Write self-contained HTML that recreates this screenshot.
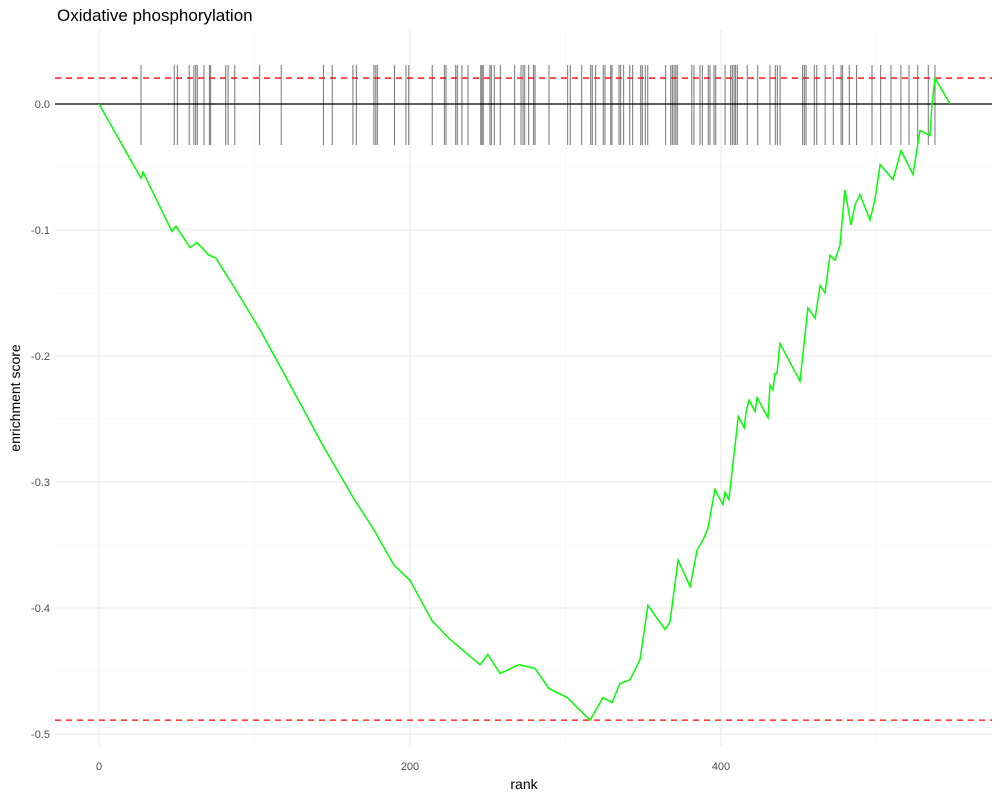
<!DOCTYPE html>
<html><head><meta charset="utf-8"><style>
body{margin:0;background:#fff;font-family:"Liberation Sans","DejaVu Sans",sans-serif}
</style></head><body>
<svg id="chart" width="1000" height="800" xmlns="http://www.w3.org/2000/svg">
<text x="57" y="21" font-size="17" fill="#000">Oxidative phosphorylation</text>
<g id="grid"></g>
<g id="axes"></g>
<g id="marks"></g>
<text x="524" y="789" font-size="14" text-anchor="middle" fill="#000">rank</text>
<text transform="translate(20,398) rotate(-90)" font-size="14" text-anchor="middle" fill="#000">enrichment score</text>
</svg>
<script>
const hits=[27,48.4,50.4,58,61,62.2,63.2,67.5,71,71.8,81.5,83,87.3,103.3,117.2,144.3,150,163.3,165.5,176.8,178,179,190,197.4,199.2,
214.3,222.1,223.2,229.4,230.4,233.4,237.3,245.5,246.3,247.1,251.4,252.3,254.2,258.1,267.3,271.4,272.7,273.8,276.3,279.5,280.4,289.4,301.4,303.1,310.4,316.2,317.2,319.4,324.3,325.4,329.1,329.9,334.4,335.5,337.4,341.3,343.2,348.4,349.4,351.3,352.9,364.4,367.7,368.7,369.8,370.9,371.9,
381.2,382.6,386.5,388,391.8,392.9,395.5,396.6,402.6,406.2,407.3,408.4,409.4,410.5,416.9,423.6,431.5,434.9,436.2,438,452.5,453.6,454.7,460,461.6,467,472.2,477.2,478.2,482.5,487.2,497.1,502.7,509.3,515.7,520.9,526.5,533.3,537.6];
const esRank=[0,27,28.3,46.9,49.5,58.5,63,70.7,75,84.2,103.5,117.7,144,163.3,176.8,189.7,200,214.1,225.7,245,250,257.9,270,280.4,289.4,301,315.8,324.1,329.9,335,341.5,347.9,353,364,367.2,372.4,380.1,384.6,388.4,391.6,396.1,401.3,402.6,405.1,411.1,415,416.1,418,421.9,423.2,430.2,431.5,433.4,434.7,436,437.9,450.8,455.9,460.5,463.7,466.9,470.1,473.3,476.5,479.7,483.6,486.2,489.4,495.8,499,502.3,510.6,515.8,523.5,528,534.4,535.5,537.6,547.3];
const esValue=[0,-0.059,-0.054,-0.101,-0.097,-0.114,-0.110,-0.120,-0.122,-0.140,-0.179,-0.211,-0.271,-0.312,-0.338,-0.366,-0.378,-0.410,-0.425,-0.445,-0.437,-0.452,-0.445,-0.448,-0.464,-0.471,-0.489,-0.471,-0.475,-0.460,-0.457,-0.441,-0.398,-0.417,-0.411,-0.362,-0.383,-0.354,-0.346,-0.337,-0.306,-0.318,-0.308,-0.314,-0.248,-0.257,-0.245,-0.235,-0.244,-0.233,-0.249,-0.223,-0.227,-0.214,-0.214,-0.190,-0.220,-0.162,-0.170,-0.144,-0.150,-0.120,-0.124,-0.112,-0.068,-0.096,-0.080,-0.072,-0.092,-0.076,-0.048,-0.060,-0.037,-0.056,-0.021,-0.025,-0.003,0.0206,0];
const xTicks=[0,200,400];
const yTicks=[0,-0.1,-0.2,-0.3,-0.4,-0.5];
const yTickLabels=["0.0","-0.1","-0.2","-0.3","-0.4","-0.5"];
const thresholds=[0.0206,-0.489];
const NS="http://www.w3.org/2000/svg";
const X=r=>99+r*1.555;
const Y=v=>104-v*1260;
function mk(tag,attrs,parent){const e=document.createElementNS(NS,tag);for(const k in attrs)e.setAttribute(k,attrs[k]);parent.appendChild(e);return e;}
const grid=document.getElementById('grid'),axes=document.getElementById('axes'),marks=document.getElementById('marks');
[100,300,500].forEach(v=>{const l=mk('line',{x1:X(v),x2:X(v),y1:30,y2:746,stroke:'#f5f5f5','stroke-width':0.6},grid);

});
[-0.05,-0.15,-0.25,-0.35,-0.45].forEach(v=>{const l=mk('line',{x1:55,x2:992,y1:Y(v),y2:Y(v),stroke:'#f5f5f5','stroke-width':0.6},grid);

});
xTicks.forEach(v=>{const l=mk('line',{x1:X(v),x2:X(v),y1:30,y2:746,stroke:'#ebebeb','stroke-width':1.2},grid);


const t=mk('text',{x:X(v),y:770,'font-size':11,'text-anchor':'middle',fill:'#4d4d4d'},axes);t.textContent=v;

});
yTicks.forEach((v,i)=>{const l=mk('line',{x1:55,x2:992,y1:Y(v),y2:Y(v),stroke:'#ebebeb','stroke-width':1.2},grid);


const t=mk('text',{x:50,y:Y(v)+4,'font-size':11,'text-anchor':'end',fill:'#4d4d4d'},axes);t.textContent=yTickLabels[i];

});
hits.forEach(r=>{const l=mk('line',{x1:X(r),x2:X(r),y1:65,y2:145,stroke:'#000','stroke-opacity':0.55,'stroke-width':1},marks);

});
const zl=mk('line',{x1:55,x2:992,y1:Y(0),y2:Y(0),stroke:'#000','stroke-width':1.3},marks);


thresholds.forEach(v=>{const l=mk('line',{x1:55,x2:992,y1:Y(v),y2:Y(v),stroke:'#ff0000','stroke-width':1.3,'stroke-dasharray':'6,5'},marks);

});
const pts=esRank.map((r,i)=>X(r).toFixed(1)+','+Y(esValue[i]).toFixed(1)).join(' ');
const pl=mk('polyline',{points:pts,fill:'none',stroke:'#00ff00','stroke-width':1.5},marks);


</script>
</body></html>
